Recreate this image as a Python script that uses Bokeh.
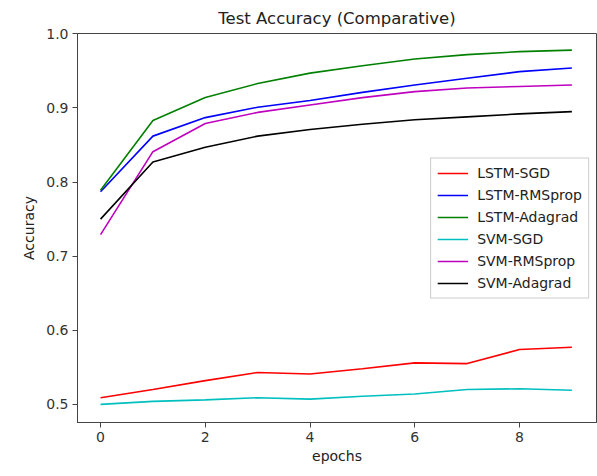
from bokeh.plotting import figure
from bokeh.models import FixedTicker, Range1d, Legend, LegendItem, NumeralTickFormatter
from bokeh.embed import file_html
from bokeh.resources import INLINE

epochs = list(range(10))
lstm_sgd = [0.509, 0.520, 0.532, 0.543, 0.541, 0.548, 0.556, 0.555, 0.574, 0.577]
lstm_rmsprop = [0.787, 0.862, 0.887, 0.901, 0.910, 0.921, 0.931, 0.940, 0.949, 0.954]
lstm_adagrad = [0.789, 0.883, 0.914, 0.933, 0.947, 0.957, 0.966, 0.972, 0.976, 0.978]
svm_sgd = [0.500, 0.504, 0.506, 0.509, 0.507, 0.511, 0.514, 0.520, 0.521, 0.519]
svm_rmsprop = [0.729, 0.841, 0.879, 0.894, 0.904, 0.914, 0.922, 0.927, 0.929, 0.931]
svm_adagrad = [0.750, 0.827, 0.847, 0.862, 0.871, 0.878, 0.884, 0.888, 0.892, 0.895]

series_names = ["LSTM-SGD", "LSTM-RMSprop", "LSTM-Adagrad", "SVM-SGD", "SVM-RMSprop", "SVM-Adagrad"]
series_vals = [lstm_sgd, lstm_rmsprop, lstm_adagrad, svm_sgd, svm_rmsprop, svm_adagrad]
colors = ["#FF0000", "#0000FF", "#008000", "#00BFBF", "#BF00BF", "#000000"]

x_ticks = [0, 2, 4, 6, 8]
y_ticks = [0.5, 0.6, 0.7, 0.8, 0.9, 1.0]

FONT = "DejaVu Sans"

p = figure(width=597, height=476, output_backend="svg", toolbar_location=None,
           x_range=Range1d(-0.44, 9.47), y_range=Range1d(0.4755, 1.0005),
           title="Test Accuracy (Comparative)",
           min_border_left=77, min_border_right=1, min_border_top=33, min_border_bottom=54)
p.title.align = "center"
p.title.text_font = FONT
p.title.text_font_size = "16.5px"
p.title.text_font_style = "normal"
p.title.text_color = "#222222"
p.title.offset = 0
p.title.standoff = 11

items = []
for name, vals, c in zip(series_names, series_vals, colors):
    r = p.line(epochs, vals, line_color=c, line_width=1.6)
    items.append(LegendItem(label=name, renderers=[r]))

legend = Legend(items=items, location="center_right")
legend.label_text_font = FONT
legend.label_text_font_size = "14px"
legend.label_text_color = "#222222"
legend.glyph_width = 31
legend.glyph_height = 17
legend.label_height = 17
legend.spacing = 5
legend.padding = 6
legend.margin = 7
legend.label_standoff = 9
legend.border_line_color = "#cccccc"
legend.border_line_alpha = 1
legend.background_fill_alpha = 0.85
p.add_layout(legend)

p.xgrid.visible = False
p.ygrid.visible = False
p.xaxis.ticker = FixedTicker(ticks=x_ticks)
p.yaxis.ticker = FixedTicker(ticks=y_ticks)
p.yaxis.formatter = NumeralTickFormatter(format="0.0")
p.xaxis.axis_label = "epochs"
p.yaxis.axis_label = "Accuracy"
for ax in (p.xaxis[0], p.yaxis[0]):
    ax.axis_label_text_font = FONT
    ax.axis_label_text_font_size = "14px"
    ax.axis_label_text_font_style = "normal"
    ax.axis_label_text_color = "#222222"
    ax.major_label_text_font = FONT
    ax.major_label_text_font_size = "14px"
    ax.major_label_text_color = "#333333"
    ax.minor_tick_line_color = None
    ax.major_tick_out = 5
    ax.major_tick_in = 0
    ax.axis_line_color = "#444444"
    ax.major_tick_line_color = "#444444"
    ax.major_label_standoff = 4
p.xaxis.axis_label_standoff = 3
p.yaxis.axis_label_standoff = 6
p.outline_line_color = "#444444"
p.outline_line_alpha = 1

open("out.html", "w").write(file_html(p, INLINE))
